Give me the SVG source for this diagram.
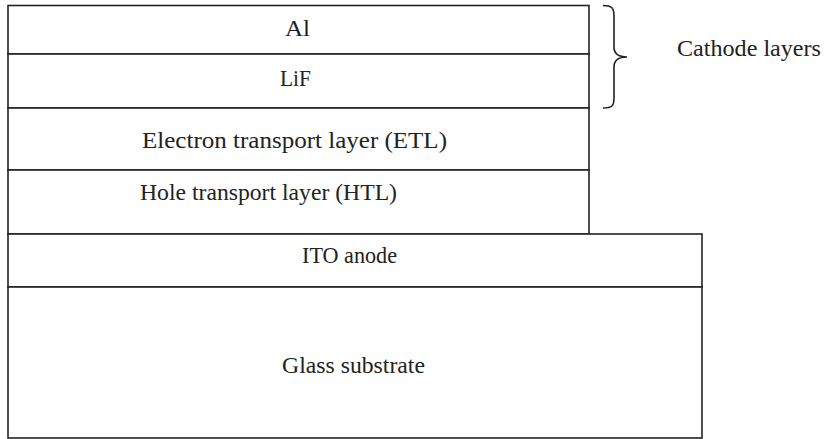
<svg xmlns="http://www.w3.org/2000/svg" width="826" height="439" viewBox="0 0 826 439">
<style>
.box{fill:#fff;stroke:#222;stroke-width:1.6}
.ln{fill:none;stroke:#222;stroke-width:1.6}
.t{font-family:'Liberation Serif','Times New Roman',serif;font-size:23px;fill:#222}
</style>
<rect width="826" height="439" fill="#fff"/>
<g id="al"><rect class="box" x="8" y="5.5" width="581" height="48.5"/><text class="t" x="285" y="36" textLength="25" lengthAdjust="spacingAndGlyphs">Al</text></g>
<g id="lif"><rect class="box" x="8" y="54" width="581" height="54"/><text class="t" x="280" y="86" textLength="31" lengthAdjust="spacingAndGlyphs">LiF</text></g>
<g id="etl"><rect class="box" x="8" y="108" width="581" height="62"/><text class="t" x="142" y="148" textLength="305" lengthAdjust="spacingAndGlyphs">Electron transport layer (ETL)</text></g>
<g id="htl"><rect class="box" x="8" y="170" width="581" height="64"/><text class="t" x="140" y="200" textLength="257" lengthAdjust="spacingAndGlyphs">Hole transport layer (HTL)</text></g>
<g id="ito"><rect class="box" x="8" y="234" width="694" height="53"/><text class="t" x="302" y="263" textLength="95" lengthAdjust="spacingAndGlyphs">ITO anode</text></g>
<g id="glass"><rect class="box" x="8" y="287" width="694" height="151"/><text class="t" x="282" y="373" textLength="143" lengthAdjust="spacingAndGlyphs">Glass substrate</text></g>
<g id="connectors"><path class="ln" d="M603,5.5 C612,5.5 614,8 614,16 L614,47 C614,54 618,57 627,57 C618,57 614,60 614,67 L614,98 C614,106 612,108 603,108"/></g>
<g id="cathode"><text class="t" x="677" y="56" textLength="144" lengthAdjust="spacingAndGlyphs">Cathode layers</text></g>
</svg>
